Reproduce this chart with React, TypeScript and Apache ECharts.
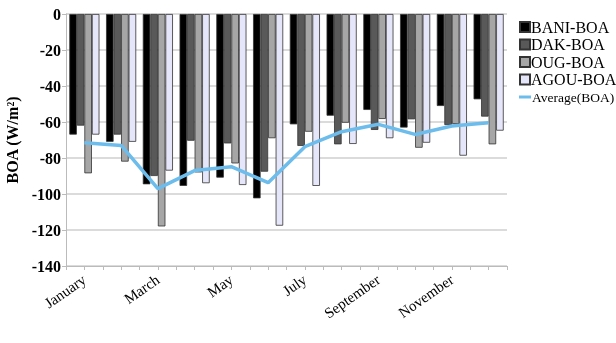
import React, { useEffect, useRef } from "react";
import * as echarts from "echarts";

const months = ["January", "February", "March", "April", "May", "June", "July", "August", "September", "October", "November", "December"];
const bani = [-67, -71, -94.6, -95.5, -90.9, -102.4, -61.3, -56.5, -53.3, -63.1, -51.1, -47.4];
const dak = [-62, -67, -90, -70.4, -71.9, -87.6, -73.3, -72.4, -64.4, -58.5, -61.7, -57];
const oug = [-88.5, -82, -118, -88, -83, -69, -65.4, -60.4, -58.3, -74.3, -61.1, -72.4];
const agou = [-67, -71, -87, -94, -95, -117.6, -95.5, -72.2, -69, -71.5, -78.7, -64.8];
const average = [-71.5, -73, -97, -87, -84.8, -93.7, -73.7, -65.4, -61.3, -66.9, -62.2, -60.4];
const halfTicks = Array.from({ length: 24 }, (_, i) => String(i));

const serif = "Liberation Serif";

export default function App() {
  const ref = useRef<HTMLDivElement>(null);
  useEffect(() => {
    const chart = echarts.init(ref.current!, null, { renderer: "svg" });
    const barStyle = (color: string) => ({
      color,
      borderColor: "#333",
      borderWidth: 0.8,
    });
    chart.setOption({
      animation: false,
      grid: { left: 66, right: 109, top: 14, bottom: 77, outerBoundsMode: "none", containLabel: false },
      legend: [
        {
          orient: "vertical",
          left: 514,
          top: 14,
          itemGap: 1.5,
          itemWidth: 10,
          itemHeight: 10,
          textStyle: { fontFamily: serif, fontSize: 16, color: "#000", padding: [0, 0, 0, -4] },
          data: [
            { name: "BANI-BOA", icon: "rect" },
            { name: "DAK-BOA", icon: "rect" },
            { name: "OUG-BOA", icon: "rect" },
            { name: "AGOU-BOA", icon: "rect" },
          ],
        },
        {
          orient: "vertical",
          left: 514,
          top: 85,
          itemWidth: 12,
          itemHeight: 3,
          textStyle: { fontFamily: serif, fontSize: 13.5, color: "#000", padding: [0, 0, 0, -4] },
          data: [{ name: "Average(BOA)", icon: "rect" }],
        },
      ],
      xAxis: [
        {
          type: "category",
          data: months,
          position: "bottom",
          axisLine: { onZero: false, lineStyle: { color: "#bbb" } },
          axisTick: { show: false },
          axisLabel: {
            interval: 1,
            rotate: 35,
            fontFamily: serif,
            fontSize: 15,
            color: "#000",
            margin: 12,
          },
        },
        {
          type: "category",
          data: halfTicks,
          position: "bottom",
          axisLine: { show: false, onZero: false },
          axisTick: { show: true, alignWithLabel: false, length: 4, lineStyle: { color: "#bbb" }, interval: 0 },
          axisLabel: { show: false },
        },
      ],
      yAxis: {
        type: "value",
        min: -140,
        max: 0,
        interval: 20,
        name: "BOA (W/m²)",
        nameLocation: "middle",
        nameGap: 43,
        nameTextStyle: { fontFamily: serif, fontSize: 16, fontWeight: "bold", color: "#000" },
        axisLine: { show: true, lineStyle: { color: "#bbb" } },
        axisTick: { show: true, length: 4, lineStyle: { color: "#bbb" } },
        axisLabel: { fontFamily: serif, fontSize: 16, fontWeight: "bold", color: "#000", margin: 5 },
        splitLine: { lineStyle: { color: "#cfcfcf", width: 1.5 } },
      },
      series: [
        { name: "BANI-BOA", type: "bar", data: bani, barGap: "0%", barCategoryGap: "18%", itemStyle: barStyle("#000000") },
        { name: "DAK-BOA", type: "bar", data: dak, barGap: "0%", barCategoryGap: "18%", itemStyle: barStyle("#595959") },
        { name: "OUG-BOA", type: "bar", data: oug, barGap: "0%", barCategoryGap: "18%", itemStyle: barStyle("#a6a6a6") },
        { name: "AGOU-BOA", type: "bar", data: agou, barGap: "0%", barCategoryGap: "18%", itemStyle: barStyle("#e6e6fa") },
        {
          name: "Average(BOA)",
          type: "line",
          data: average,
          symbol: "none",
          lineStyle: { color: "#6cbcec", width: 3.5 },
          itemStyle: { color: "#6cbcec" },
          z: 5,
        },
      ],
    });
    return () => chart.dispose();
  }, []);
  return <div ref={ref} style={{ position: "fixed", left: 0, top: 0, width: 616, height: 343 }} />;
}
